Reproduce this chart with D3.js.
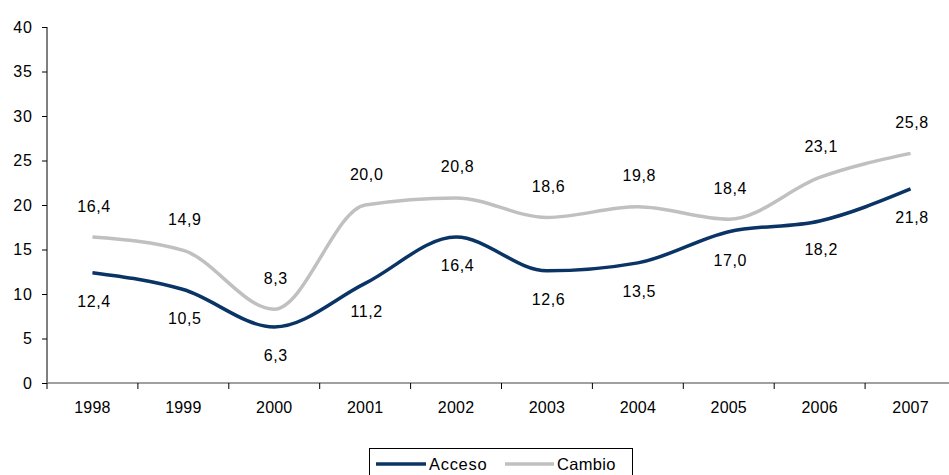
<!DOCTYPE html>
<html><head><meta charset="utf-8">
<script src="https://cdn.jsdelivr.net/npm/d3@7"></script>
<style>body{margin:0;background:#fff}text{font-family:"Liberation Sans",Arial,sans-serif}</style>
</head><body>
<svg id="c" width="949" height="475"></svg>
<script>
const years = ["1998","1999","2000","2001","2002","2003","2004","2005","2006","2007"];
const acceso = [12.4,10.5,6.3,11.2,16.4,12.6,13.5,17.0,18.2,21.8];
const cambio = [16.4,14.9,8.3,20.0,20.8,18.6,19.8,18.4,23.1,25.8];
const yTicks = [0,5,10,15,20,25,30,35,40];

const svg = d3.select("#c");
const x = d3.scaleBand().domain(years).range([47, 956]);
const y = d3.scaleLinear().domain([0,40]).range([383, 27]);
const fmt = v => v.toFixed(1).replace(".", ",");
const FS = 16, LS = 0.6;

// y axis
const ya = svg.append("g").attr("transform","translate(47,0)")
  .call(d3.axisLeft(y).tickValues(yTicks).tickSize(5).tickPadding(9));
ya.select(".domain").attr("stroke","#000").attr("d","M0,27V383");
ya.selectAll(".tick line").attr("stroke","#000");
ya.selectAll("text").attr("font-size",FS).attr("letter-spacing",1).attr("fill","#000")
  .attr("font-family","Liberation Sans, Arial");

// x axis
const xa = svg.append("g").attr("transform","translate(0,383)")
  .call(d3.axisBottom(x).tickSize(0).tickPadding(19));
xa.select(".domain").attr("stroke","#808080").attr("stroke-width",1.5).attr("d","M47,0H956");
xa.selectAll("text").attr("font-size",FS).attr("letter-spacing",0.2).attr("fill","#000")
  .attr("font-family","Liberation Sans, Arial");
svg.append("g").selectAll("line").data(years).join("line")
  .attr("x1",d=>x(d)).attr("x2",d=>x(d)).attr("y1",383).attr("y2",389)
  .attr("stroke","#000");

const cx = d => x(d) + x.bandwidth()/2;
const line = d3.line().x((d,i)=>cx(years[i])).y(d=>y(d)).curve(d3.curveMonotoneX);

svg.append("path").datum(cambio).attr("d",line).attr("fill","none")
  .attr("stroke","#c0c0c0").attr("stroke-width",3.5);
svg.append("path").datum(acceso).attr("d",line).attr("fill","none")
  .attr("stroke","#0a3465").attr("stroke-width",3.5);

svg.append("g").selectAll("text").data(cambio).join("text")
  .attr("x",(d,i)=>cx(years[i])+1.5).attr("y",d=>y(d)-31).attr("dy","0.35em")
  .attr("text-anchor","middle").attr("font-size",FS).attr("letter-spacing",LS).text(fmt);
svg.append("g").selectAll("text").data(acceso).join("text")
  .attr("x",(d,i)=>cx(years[i])+1.5).attr("y",d=>y(d)+28.5).attr("dy","0.35em")
  .attr("text-anchor","middle").attr("font-size",FS).attr("letter-spacing",LS).text(fmt);

// legend
const lg = svg.append("g");
lg.append("rect").attr("x",369.5).attr("y",448.5).attr("width",263).attr("height",40)
  .attr("fill","#fff").attr("stroke","#000");
lg.append("line").attr("x1",376).attr("x2",426).attr("y1",464).attr("y2",464)
  .attr("stroke","#0a3465").attr("stroke-width",3.5);
lg.append("text").attr("x",429).attr("y",469.5).attr("font-size",16.5).attr("letter-spacing",0.7).text("Acceso");
lg.append("line").attr("x1",505).attr("x2",554).attr("y1",464).attr("y2",464)
  .attr("stroke","#c0c0c0").attr("stroke-width",3.5);
lg.append("text").attr("x",557).attr("y",469.5).attr("font-size",16.5).attr("letter-spacing",0.3).text("Cambio");
</script>
</body></html>
